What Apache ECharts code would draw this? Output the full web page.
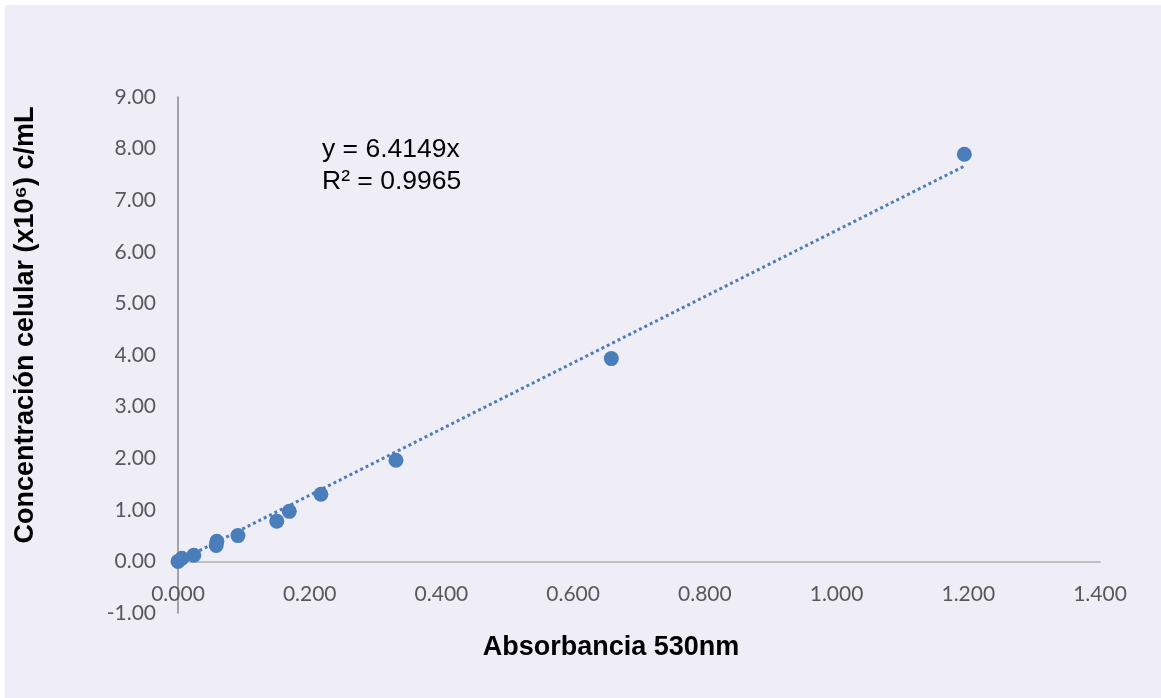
<!DOCTYPE html>
<html>
<head>
<meta charset="utf-8">
<script src="https://cdn.jsdelivr.net/npm/echarts@6/dist/echarts.min.js"></script>
<style>
  html, body { margin: 0; padding: 0; background: #ffffff; }
  #chart { position: absolute; left: 5px; top: 5px; width: 1156px; height: 693px; }
</style>
</head>
<body>
<div id="chart"></div>
<script>
// Absorbance at 530 nm vs. cell concentration (x10^6 cells/mL)
const absorbance = [0.000, 0.006, 0.024, 0.058, 0.059, 0.091, 0.150, 0.169, 0.217, 0.331, 0.658, 1.194];
const concentration = [0.00, 0.06, 0.12, 0.31, 0.39, 0.50, 0.78, 0.97, 1.30, 1.96, 3.93, 7.89];

// Linear fit through origin
const slope = 6.4149;
const rSquared = 0.9965;

const xTicks = { min: 0, max: 1.4, step: 0.2 };
const yTicks = { min: -1, max: 9, step: 1 };

const points = absorbance.map((x, i) => [x, concentration[i]]);
const xEnd = Math.max(...absorbance);
const trend = [[0, 0], [xEnd, slope * xEnd]];

const blue = '#4a7ebb';
const tickFont = 'Lato, "Open Sans", sans-serif';
const titleFont = '"Liberation Sans", Arial, sans-serif';

const chart = echarts.init(document.getElementById('chart'));
chart.setOption({
  backgroundColor: '#efedf5',
  animation: false,
  grid: { left: 173, top: 92, width: 922, height: 516 },
  xAxis: {
    type: 'value',
    min: xTicks.min, max: xTicks.max, interval: xTicks.step,
    axisLine: { onZero: true, lineStyle: { color: '#c0c0c0', width: 2 } },
    axisTick: { show: false },
    splitLine: { show: false },
    axisLabel: {
      margin: -29, fontSize: 21, color: '#595959', fontFamily: tickFont,
      formatter: v => v.toFixed(3)
    }
  },
  yAxis: {
    type: 'value',
    min: yTicks.min, max: yTicks.max, interval: yTicks.step,
    axisLine: { show: true, lineStyle: { color: '#8a8a8a', width: 1.5 } },
    axisTick: { show: false },
    splitLine: { show: false },
    axisLabel: {
      margin: 22, fontSize: 21, color: '#595959', fontFamily: tickFont,
      formatter: v => v.toFixed(2)
    }
  },
  graphic: [
    {
      type: 'text', x: 606, y: 643,
      style: {
        text: 'Absorbancia 530nm', font: 'bold 27px ' + titleFont, fill: '#000',
        align: 'center', verticalAlign: 'middle'
      }
    },
    {
      type: 'text', x: 21, y: 320, rotation: Math.PI / 2,
      style: {
        text: 'Concentración celular (x10⁶) c/mL', font: 'bold 27px ' + titleFont,
        fill: '#000', align: 'center', verticalAlign: 'middle'
      }
    },
    {
      type: 'text', x: 317, y: 145,
      style: {
        text: 'y = ' + slope.toFixed(4) + 'x', font: '26.5px ' + titleFont, fill: '#000',
        verticalAlign: 'middle'
      }
    },
    {
      type: 'text', x: 317, y: 177,
      style: {
        text: 'R² = ' + rSquared.toFixed(4), font: '26.5px ' + titleFont, fill: '#000',
        verticalAlign: 'middle'
      }
    }
  ],
  series: [
    {
      type: 'line',
      data: trend,
      symbol: 'none',
      lineStyle: { color: blue, width: 3, type: [3, 3] },
      z: 2
    },
    {
      type: 'scatter',
      data: points,
      symbolSize: 15,
      itemStyle: { color: blue, opacity: 1 },
      z: 3
    }
  ]
});
</script>
</body>
</html>
